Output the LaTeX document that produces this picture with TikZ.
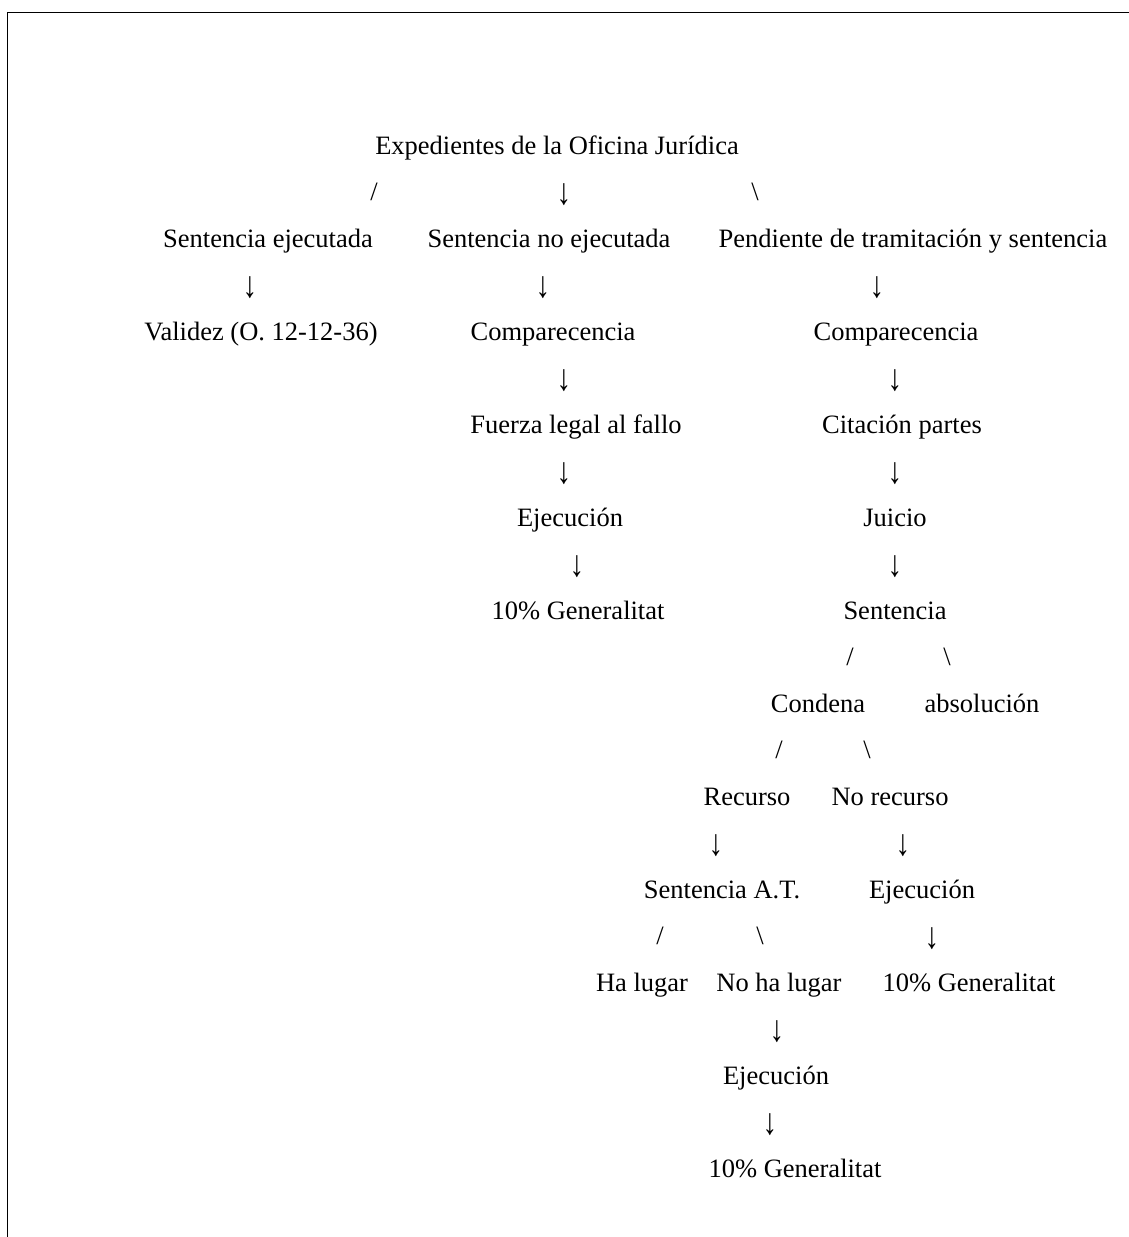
\documentclass[tikz,border=0pt]{standalone}
\usepackage{fontspec}
\usepackage{graphicx}
\setmainfont{Liberation Serif}
\newcommand{\lblfont}{\fontsize{26.5}{30}\selectfont}
\newcommand{\downarr}{\scalebox{1.1}[1.4]{↓}}
\tikzset{
  lbl/.style={anchor=base, inner sep=0pt, outer sep=0pt, font=\lblfont, text=black},
  arr/.style={anchor=center, inner sep=0pt, outer sep=0pt, font=\lblfont, text=black},
  frameline/.style={line width=1.8pt, black}
}
\begin{document}
\begin{tikzpicture}[x=1pt,y=-1pt]
\useasboundingbox (0,0) rectangle (1129,1237);
% frame
\coordinate (fb) at (7.5,1237);
\coordinate (fc) at (7.5,12.5);
\coordinate (fr) at (1129,12.5);
\draw[frameline] (fb) -- (fc) -- (fr);
% row 1
\node[lbl] (exp) at (557,154) {Expedientes de la Oficina Jurídica};
% row 2
\node[lbl] (c1a) at (374,200.5) {/};
\node[arr] (c1b) at (564,194.5) {\downarr};
\node[lbl] (c1c) at (755,200.5) {\textbackslash};
% row 3
\node[lbl] (se)   at (268,247) {Sentencia ejecutada};
\node[lbl] (sne)  at (549,247) {Sentencia no ejecutada};
\node[lbl] (pend) at (913,247) {Pendiente de tramitación y sentencia};
% row 4
\node[arr] (c2a) at (250,287.5) {\downarr};
\node[arr] (c2b) at (543,287.5) {\downarr};
\node[arr] (c2c) at (877,287.5) {\downarr};
% row 5
\node[lbl] (val)   at (261,340) {Validez (O. 12-12-36)};
\node[lbl] (comp1) at (553,340) {Comparecencia};
\node[lbl] (comp2) at (896,340) {Comparecencia};
% row 6
\node[arr] (c3a) at (564,380.5) {\downarr};
\node[arr] (c3b) at (895,380.5) {\downarr};
% row 7
\node[lbl] (fuer) at (576,433) {Fuerza legal al fallo};
\node[lbl] (cit)  at (902,433) {Citación partes};
% row 8
\node[arr] (c4a) at (564,473.5) {\downarr};
\node[arr] (c4b) at (895,473.5) {\downarr};
% row 9
\node[lbl] (ej1) at (570,526) {Ejecución};
\node[lbl] (jui) at (895,526) {Juicio};
% row 10
\node[arr] (c5a) at (577,566.5) {\downarr};
\node[arr] (c5b) at (895,566.5) {\downarr};
% row 11
\node[lbl] (gen1) at (578,619) {10\% Generalitat};
\node[lbl] (sent) at (895,619) {Sentencia};
% row 12
\node[lbl] (c6a) at (850,665.5) {/};
\node[lbl] (c6b) at (947,665.5) {\textbackslash};
% row 13
\node[lbl] (cond) at (818,712) {Condena};
\node[lbl] (abs)  at (982,712) {absolución};
% row 14
\node[lbl] (c7a) at (779,758.5) {/};
\node[lbl] (c7b) at (867,758.5) {\textbackslash};
% row 15
\node[lbl] (rec)   at (747,805) {Recurso};
\node[lbl] (norec) at (890,805) {No recurso};
% row 16
\node[arr] (c8a) at (716,845.5) {\downarr};
\node[arr] (c8b) at (903,845.5) {\downarr};
% row 17
\node[lbl] (sat) at (722,898) {Sentencia A.T.};
\node[lbl] (ej2) at (922,898) {Ejecución};
% row 18
\node[lbl] (c9a) at (660,944.5) {/};
\node[lbl] (c9b) at (760,944.5) {\textbackslash};
\node[arr] (c9c) at (932,938.5) {\downarr};
% row 19
\node[lbl] (hal)   at (642,991) {Ha lugar};
\node[lbl] (nohal) at (779,991) {No ha lugar};
\node[lbl] (gen2)  at (969,991) {10\% Generalitat};
% row 20
\node[arr] (c10) at (777,1031.5) {\downarr};
% row 21
\node[lbl] (ej3) at (776,1084) {Ejecución};
% row 22
\node[arr] (c11) at (770,1124.5) {\downarr};
% row 23
\node[lbl] (gen3) at (795,1177) {10\% Generalitat};
\end{tikzpicture}
\end{document}
